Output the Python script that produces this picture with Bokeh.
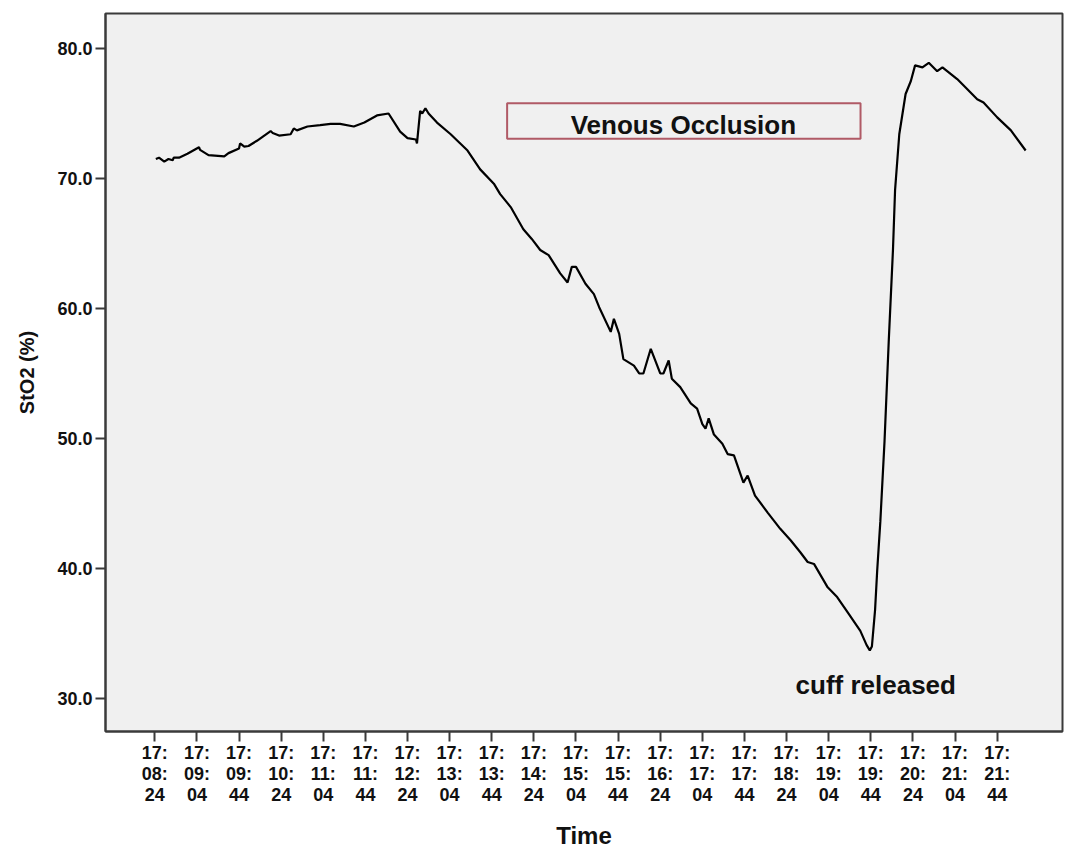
from bokeh.plotting import figure
from bokeh.models import FixedTicker, Range1d, BoxAnnotation, Label
from bokeh.embed import file_html
from bokeh.resources import INLINE

# Tissue oxygen saturation during a venous occlusion test.
# Time is in seconds after 17:08:24.
t_sec = [1, 4, 9, 13, 17, 18, 23, 31, 42, 43, 51, 66, 70, 80, 81, 85, 89, 97,
         110, 112, 118, 129, 132, 135, 145, 157, 167, 176, 189, 199, 211, 222,
         233, 240, 248, 249, 252, 254, 257, 260, 268, 281, 297, 309, 322, 328,
         338, 350, 358, 366, 374, 385, 392, 396, 400, 409, 417, 422, 433, 436,
         441, 445, 455, 460, 464, 471, 480, 483, 488, 491, 499, 509, 515, 520,
         523, 526, 531, 539, 544, 550, 559, 563, 570, 582, 594, 604, 613, 620,
         626, 639, 648, 659, 670, 676, 679, 681, 684, 686, 689, 693, 697, 701,
         703, 707, 713, 718, 722, 729, 735, 743, 748, 762, 770, 781, 787, 800,
         813, 827]
sto2 = [71.5, 71.6, 71.3, 71.5, 71.4, 71.6, 71.6, 71.9, 72.4, 72.2, 71.8, 71.7,
        71.95, 72.3, 72.7, 72.45, 72.5, 72.9, 73.65, 73.5, 73.3, 73.4, 73.85,
        73.7, 74.0, 74.1, 74.2, 74.2, 74.0, 74.3, 74.85, 75.0, 73.6, 73.1, 73.0,
        72.7, 75.2, 75.0, 75.4, 75.0, 74.3, 73.4, 72.15, 70.7, 69.6, 68.8, 67.8,
        66.1, 65.35, 64.5, 64.1, 62.7, 62.0, 63.2, 63.2, 61.9, 61.1, 60.1, 58.2,
        59.2, 58.05, 56.1, 55.6, 55.0, 55.0, 56.9, 55.0, 55.0, 56.0, 54.6, 53.95,
        52.7, 52.3, 51.1, 50.75, 51.55, 50.3, 49.6, 48.8, 48.7, 46.6, 47.15,
        45.6, 44.3, 43.05, 42.15, 41.25, 40.5, 40.35, 38.55, 37.8, 36.5, 35.2,
        34.1, 33.7, 34.0, 36.8, 39.8, 43.6, 49.8, 57.5, 64.5, 69.1, 73.4, 76.5,
        77.5, 78.7, 78.55, 78.9, 78.25, 78.55, 77.65, 77.0, 76.1, 75.85, 74.7,
        73.7, 72.15]

x_ticks = [0, 40, 80, 120, 160, 200, 240, 280, 320, 360, 400, 440, 480, 520,
           560, 600, 640, 680, 720, 760, 800]
x_tick_labels = ["17:\n08:\n24", "17:\n09:\n04", "17:\n09:\n44", "17:\n10:\n24",
                 "17:\n11:\n04", "17:\n11:\n44", "17:\n12:\n24", "17:\n13:\n04",
                 "17:\n13:\n44", "17:\n14:\n24", "17:\n15:\n04", "17:\n15:\n44",
                 "17:\n16:\n24", "17:\n17:\n04", "17:\n17:\n44", "17:\n18:\n24",
                 "17:\n19:\n04", "17:\n19:\n44", "17:\n20:\n24", "17:\n21:\n04",
                 "17:\n21:\n44"]
y_ticks = [30, 40, 50, 60, 70, 80]
y_tick_labels = ["30.0", "40.0", "50.0", "60.0", "70.0", "80.0"]

# occlusion marker box and release note (data coordinates)
occl_left, occl_right, occl_bottom, occl_top = 334.6, 670.2, 73.05, 75.79
occl_text_x, occl_text_y = 502.0, 74.1
release_x, release_y = 608.5, 31.0

FONT = "Liberation Sans"
INK = "#111111"
FRAME = "#3a3a3a"

p = figure(width=1066, height=851, output_backend="svg", toolbar_location=None,
           x_range=Range1d(-46.8, 862), y_range=Range1d(27.46, 82.69),
           min_border_left=105, min_border_right=4, min_border_top=13,
           min_border_bottom=120)
p.background_fill_color = "#f0f0f0"
p.border_fill_color = "white"
p.outline_line_color = FRAME
p.outline_line_width = 2
p.grid.visible = False

p.line(t_sec, sto2, line_color="black", line_width=2.2)

p.add_layout(BoxAnnotation(left=occl_left, right=occl_right, bottom=occl_bottom,
                           top=occl_top, fill_color=None, line_color="#b05a66",
                           line_alpha=1.0, line_width=2))
p.add_layout(Label(x=occl_text_x, y=occl_text_y, text="Venous Occlusion",
                   text_align="center", text_baseline="middle", text_font=FONT,
                   text_font_style="bold", text_font_size="26px", text_color=INK))
p.add_layout(Label(x=release_x, y=release_y, text="cuff released",
                   text_align="left", text_baseline="middle", text_font=FONT,
                   text_font_style="bold", text_font_size="26px", text_color=INK))

xa = p.xaxis[0]
xa.ticker = FixedTicker(ticks=x_ticks)
xa.major_label_overrides = dict(zip(x_ticks, x_tick_labels))
xa.axis_label = "Time"

ya = p.yaxis[0]
ya.ticker = FixedTicker(ticks=y_ticks)
ya.major_label_overrides = dict(zip(y_ticks, y_tick_labels))
ya.axis_label = "StO2 (%)"

for ax in (xa, ya):
    ax.axis_line_color = FRAME
    ax.axis_line_width = 2
    ax.major_tick_line_color = FRAME
    ax.major_tick_line_width = 2
    ax.major_tick_out = 10
    ax.major_tick_in = 0
    ax.minor_tick_out = 0
    ax.minor_tick_in = 0
    ax.major_label_text_font = FONT
    ax.major_label_text_font_style = "bold"
    ax.major_label_text_font_size = "18px"
    ax.major_label_text_color = INK
    ax.axis_label_text_font = FONT
    ax.axis_label_text_font_style = "bold"
    ax.axis_label_text_color = INK

xa.major_label_standoff = 1
xa.major_label_text_line_height = 1.05
xa.axis_label_text_font_size = "24px"
xa.axis_label_standoff = 14
ya.major_label_standoff = 3
ya.axis_label_text_font_size = "20px"
ya.axis_label_standoff = 16

open("out.html", "w").write(file_html(p, INLINE))
